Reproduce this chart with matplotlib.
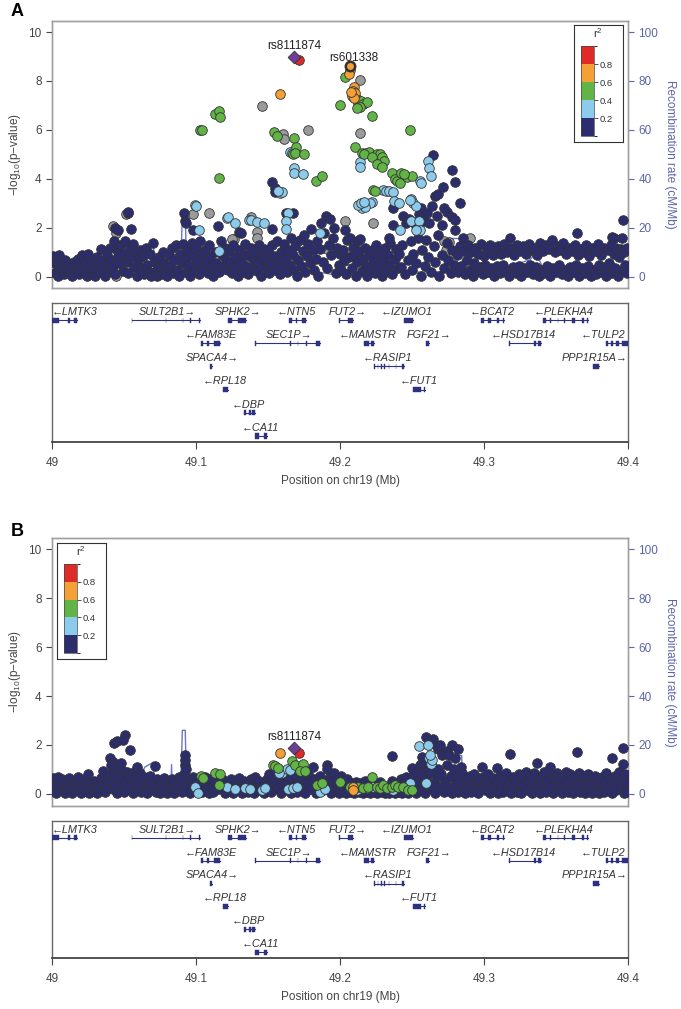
import matplotlib
matplotlib.use("Agg")
import matplotlib.pyplot as plt
from matplotlib.colors import ListedColormap, BoundaryNorm
from matplotlib.cm import ScalarMappable

plt.rcParams['font.family'] = ['Liberation Sans', 'DejaVu Sans']
plt.rcParams['mathtext.fontset'] = 'custom'
plt.rcParams['mathtext.rm'] = 'Liberation Sans'

# colours for the r2 bins
NAVY = '#2b2d6e'
LBLUE = '#8ccbeb'
GREEN = '#62b446'
ORANGE = '#f4a036'
RED = '#df2a2a'
GREY = '#9b9b9b'
PURPLE = '#6d3f95'
RECOMB = '#6b77c0'
RIGHT = '#5b66a8'
GENE = '#2e3080'

# ---------------- data: panel A ----------------
navy_a = [
    (49.001, 0.85), (49.002, 0.55), (49.002, 0.15), (49.003, 0.75), (49.004, 0.35), (49.004, 0.05),
    (49.005, 0.88), (49.006, 0.6), (49.006, 0.25), (49.007, 0.45), (49.008, 0.1), (49.009, 0.7),
    (49.010, 0.3), (49.011, 0.55), (49.012, 0.15), (49.013, 0.4), (49.014, 0.05), (49.015, 0.62),
    (49.016, 0.25), (49.018, 0.75), (49.018, 0.45), (49.019, 0.1), (49.020, 0.35),
    (49.021, 0.9), (49.022, 0.2), (49.023, 0.55), (49.024, 0.05), (49.025, 0.93), (49.026, 0.4),
    (49.027, 0.15), (49.028, 0.65), (49.029, 0.3), (49.030, 0.05), (49.031, 0.8), (49.032, 0.5),
    (49.033, 0.2), (49.034, 1.15), (49.035, 0.65), (49.036, 0.35), (49.037, 0.05), (49.038, 0.9),
    (49.039, 0.55), (49.040, 0.25), (49.040, 1.2),
    (49.0435, 1.98), (49.0455, 1.92), (49.0525, 2.6), (49.053, 2.67), (49.055, 1.95), (49.041, 0.7),
    (49.042, 0.4), (49.043, 1.45), (49.044, 0.1), (49.045, 1.1), (49.046, 0.85), (49.047, 0.55),
    (49.048, 1.3), (49.049, 0.25), (49.050, 0.95), (49.051, 1.45), (49.052, 0.6), (49.053, 0.15),
    (49.054, 1.15), (49.055, 0.8), (49.056, 1.35), (49.057, 0.4), (49.058, 1.05), (49.059, 0.05),
    (49.060, 0.7),
    (49.061, 1.1), (49.062, 0.35), (49.063, 0.85), (49.064, 0.1), (49.065, 1.2), (49.066, 0.5),
    (49.067, 0.2), (49.068, 0.95), (49.069, 0.05), (49.070, 1.38), (49.071, 0.6), (49.072, 0.25),
    (49.073, 0.05), (49.074, 0.8), (49.075, 0.4), (49.076, 0.1), (49.077, 1.0), (49.078, 0.55),
    (49.079, 0.2), (49.080, 0.05), (49.081, 0.9), (49.082, 0.45), (49.083, 1.2), (49.084, 0.15),
    (49.085, 0.7), (49.086, 1.3), (49.087, 0.3), (49.088, 0.05), (49.089, 0.95), (49.090, 0.55),
    (49.0915, 2.63), (49.092, 2.3), (49.093, 2.19), (49.098, 1.9), (49.091, 1.35), (49.092, 0.75),
    (49.093, 0.2), (49.094, 1.1), (49.095, 0.5), (49.096, 0.05), (49.097, 1.4), (49.098, 0.85),
    (49.099, 0.3), (49.100, 1.2), (49.101, 0.6), (49.102, 0.1), (49.103, 1.45), (49.104, 0.9),
    (49.105, 0.35), (49.106, 1.1), (49.107, 0.65), (49.108, 0.15), (49.109, 1.3), (49.110, 0.8),
    (49.111, 0.4), (49.112, 0.05), (49.113, 1.0), (49.114, 0.55), (49.1155, 2.08), (49.117, 1.48),
    (49.116, 0.2), (49.118, 0.9), (49.119, 0.45), (49.120, 1.2),
    (49.1295, 1.85), (49.131, 1.8), (49.1525, 1.95), (49.1525, 3.89), (49.155, 3.62), (49.1545, 3.45),
    (49.121, 0.7), (49.122, 0.3), (49.123, 1.05), (49.124, 0.55), (49.125, 0.15), (49.126, 1.3),
    (49.127, 0.8), (49.128, 0.4), (49.129, 0.05), (49.130, 1.1), (49.131, 0.6), (49.132, 0.2),
    (49.133, 0.95), (49.134, 1.35), (49.135, 0.45), (49.136, 0.1), (49.137, 0.85), (49.138, 1.2),
    (49.139, 0.35), (49.140, 0.7), (49.141, 1.0), (49.142, 0.25), (49.143, 0.6), (49.144, 1.3),
    (49.145, 0.05), (49.146, 0.8), (49.147, 1.15), (49.148, 0.4), (49.149, 0.7), (49.150, 1.05),
    (49.151, 0.15), (49.152, 0.5), (49.153, 1.3), (49.154, 0.85), (49.155, 0.3), (49.156, 1.45),
    (49.157, 0.65), (49.158, 0.1), (49.159, 1.0), (49.160, 0.4),
    (49.1625, 2.62), (49.167, 2.63), (49.161, 1.35), (49.162, 0.75), (49.163, 0.2), (49.164, 1.1),
    (49.165, 0.5), (49.166, 1.6), (49.167, 0.9), (49.168, 0.3), (49.169, 1.25), (49.170, 0.05),
    (49.171, 0.7), (49.172, 1.5), (49.173, 0.45), (49.174, 1.05), (49.175, 1.7), (49.176, 0.2),
    (49.177, 0.85), (49.178, 1.35), (49.179, 0.55), (49.180, 1.95), (49.181, 1.1), (49.182, 0.3),
    (49.183, 0.75), (49.184, 1.45), (49.185, 0.05), (49.186, 1.15), (49.187, 2.2), (49.188, 0.6),
    (49.189, 1.8), (49.190, 2.5), (49.191, 0.35), (49.192, 1.3), (49.193, 2.35), (49.194, 0.9),
    (49.195, 1.6), (49.196, 2.0), (49.197, 0.15), (49.198, 1.2), (49.199, 0.5), (49.200, 0.95),
    (49.2035, 1.92), (49.205, 1.5), (49.207, 1.6), (49.2115, 1.45), (49.214, 1.55), (49.209, 1.2),
    (49.201, 0.3), (49.202, 1.1), (49.203, 0.65), (49.204, 0.1), (49.206, 0.8), (49.208, 0.35),
    (49.210, 0.9), (49.211, 0.05), (49.212, 0.6), (49.213, 1.05), (49.215, 0.25), (49.216, 0.75),
    (49.217, 1.2), (49.218, 0.45), (49.219, 0.05), (49.220, 0.9), (49.221, 0.3), (49.222, 1.1),
    (49.223, 0.6), (49.224, 0.15), (49.225, 1.3), (49.226, 0.8), (49.227, 0.4), (49.228, 1.0),
    (49.229, 0.05), (49.230, 0.65), (49.231, 1.2), (49.232, 0.25), (49.233, 0.9), (49.234, 0.5),
    (49.235, 1.4), (49.236, 0.1), (49.237, 2.8), (49.2365, 2.12), (49.234, 1.58), (49.238, 0.75),
    (49.239, 1.15), (49.240, 0.35),
    (49.244, 2.5), (49.246, 2.2), (49.248, 2.35), (49.2525, 2.1), (49.255, 2.55), (49.2565, 2.8),
    (49.258, 2.3), (49.2605, 2.6), (49.262, 2.2), (49.264, 2.9), (49.2648, 4.97), (49.266, 3.3),
    (49.268, 3.4), (49.2675, 2.5), (49.2706, 2.12), (49.2718, 3.69), (49.2725, 2.8), (49.274, 2.65),
    (49.2775, 4.37), (49.2798, 3.89), (49.278, 2.45), (49.280, 2.33), (49.2795, 1.92), (49.2833, 3.0),
    (49.241, 0.95), (49.242, 0.4), (49.243, 1.3), (49.245, 0.1), (49.247, 0.7), (49.249, 1.45),
    (49.250, 0.3), (49.251, 0.95), (49.253, 0.55), (49.254, 1.6), (49.256, 0.05), (49.257, 1.1),
    (49.259, 0.45), (49.260, 1.5), (49.261, 0.8), (49.263, 0.2), (49.265, 1.25), (49.266, 0.6),
    (49.268, 1.7), (49.269, 0.05), (49.271, 0.9), (49.272, 0.35), (49.274, 1.4), (49.275, 0.7),
    (49.277, 0.15), (49.278, 1.1), (49.279, 0.5),
    (49.2855, 1.6), (49.3181, 1.58), (49.281, 0.9), (49.282, 0.2), (49.283, 1.25), (49.284, 0.45),
    (49.286, 1.05), (49.287, 0.1), (49.288, 0.7), (49.289, 1.3), (49.290, 0.3), (49.291, 1.0),
    (49.292, 0.05), (49.293, 0.55), (49.294, 1.2), (49.295, 0.25), (49.296, 0.95), (49.297, 0.4),
    (49.298, 1.35), (49.299, 0.1), (49.300, 0.85), (49.301, 0.5), (49.302, 1.15), (49.303, 0.2),
    (49.304, 1.3), (49.305, 0.35), (49.306, 0.9), (49.307, 0.05), (49.308, 1.1), (49.309, 0.45),
    (49.310, 1.25), (49.311, 0.15), (49.312, 0.95), (49.313, 0.5), (49.314, 1.35), (49.315, 0.25),
    (49.316, 1.0), (49.317, 0.05), (49.319, 1.2), (49.320, 0.4),
    (49.321, 0.9), (49.322, 0.15), (49.323, 1.3), (49.324, 0.45), (49.325, 1.05), (49.326, 0.05),
    (49.327, 1.25), (49.328, 0.35), (49.329, 0.95), (49.330, 0.2), (49.331, 1.35), (49.332, 0.5),
    (49.333, 1.1), (49.334, 0.1), (49.335, 1.2), (49.336, 0.4), (49.337, 0.9), (49.338, 0.05),
    (49.339, 1.4), (49.340, 0.3), (49.341, 1.05), (49.342, 0.15), (49.343, 1.3), (49.344, 0.45),
    (49.345, 1.15), (49.346, 0.05), (49.347, 1.51), (49.348, 0.35), (49.349, 1.0), (49.350, 0.2),
    (49.351, 1.25), (49.352, 0.5), (49.353, 1.1), (49.354, 0.1), (49.355, 1.4), (49.356, 0.3),
    (49.357, 0.95), (49.358, 0.05), (49.359, 1.2), (49.360, 0.4),
    (49.3646, 1.78), (49.3889, 1.65), (49.3900, 1.6), (49.3968, 2.33), (49.3955, 1.6), (49.361, 1.05),
    (49.362, 0.2), (49.363, 1.3), (49.364, 0.5), (49.365, 0.9), (49.366, 0.05), (49.367, 1.15),
    (49.368, 0.35), (49.369, 1.0), (49.370, 0.15), (49.371, 1.3), (49.372, 0.45), (49.373, 0.85),
    (49.374, 0.05), (49.375, 1.2), (49.376, 0.3), (49.377, 1.05), (49.378, 0.1), (49.379, 1.35),
    (49.380, 0.5), (49.381, 0.9), (49.382, 0.2), (49.383, 1.2), (49.384, 0.4), (49.385, 0.05),
    (49.386, 1.1), (49.387, 0.55), (49.388, 1.3), (49.389, 0.15), (49.390, 0.95), (49.391, 0.35),
    (49.392, 1.2), (49.393, 0.05), (49.394, 0.8), (49.395, 1.15), (49.396, 0.3), (49.397, 1.0),
    (49.398, 0.5), (49.399, 1.2), (49.3995, 0.15),
]
grey_a = [
    (49.1458, 6.96), (49.1775, 5.98), (49.1605, 5.85), (49.161, 5.65), (49.2139, 8.05), (49.2139, 5.87),
    (49.098, 2.55), (49.109, 2.63), (49.0515, 2.57), (49.0445, 1.78), (49.0426, 2.07), (49.1385, 2.45),
    (49.1425, 1.85), (49.1425, 1.57), (49.1265, 1.53), (49.1248, 1.54), (49.033, 0.44), (49.0445, 0.03),
    (49.1375, 0.27), (49.161, 1.16), (49.191, 1.16), (49.085, 0.75), (49.2035, 2.3), (49.2231, 2.19),
    (49.2755, 1.43), (49.2903, 1.6), (49.2916, 1.08), (49.2722, 1.45), (49.2733, 1.1), (49.021, 0.22),
    (49.100, 0.4), (49.065, 0.3), (49.236, 0.2), (49.295, 1.0), (49.210, 1.35),
]
lblue_a = [
    (49.099, 2.93), (49.100, 2.9), (49.102, 1.9), (49.1213, 2.4), (49.1225, 2.44), (49.127, 2.19),
    (49.1365, 2.32), (49.1385, 2.34), (49.142, 2.25), (49.147, 2.2), (49.164, 2.6), (49.1625, 2.3),
    (49.1625, 1.95), (49.116, 1.06), (49.1863, 1.8), (49.165, 5.1), (49.1665, 5.05), (49.168, 4.46),
    (49.1683, 4.23), (49.1745, 4.19), (49.158, 3.44), (49.1595, 3.48), (49.157, 3.5), (49.2139, 4.7),
    (49.214, 4.5), (49.2613, 4.74), (49.262, 4.43), (49.263, 4.12), (49.2555, 3.9), (49.2565, 3.85),
    (49.2295, 3.55), (49.232, 3.5), (49.234, 3.52), (49.2365, 3.45), (49.2375, 3.1), (49.241, 3.0),
    (49.2495, 3.2), (49.251, 3.0), (49.2525, 2.9), (49.2485, 3.15), (49.222, 3.05), (49.221, 3.0),
    (49.2155, 2.8), (49.2175, 2.85), (49.2415, 1.9), (49.2495, 2.3), (49.2545, 2.3), (49.2555, 1.9),
    (49.2525, 1.9), (49.2125, 2.95), (49.2145, 3.0), (49.2165, 3.05),
]
green_a = [
    (49.1132, 6.66), (49.1160, 6.78), (49.1166, 6.55), (49.1028, 6.0), (49.104, 6.0), (49.1539, 5.93),
    (49.1565, 5.76), (49.168, 5.69), (49.1697, 5.32), (49.1675, 5.0), (49.169, 5.05), (49.1752, 5.02),
    (49.116, 4.02), (49.1833, 3.92), (49.1873, 4.13), (49.200, 7.0), (49.2035, 8.16), (49.2115, 7.25),
    (49.2125, 7.1), (49.2145, 7.2), (49.216, 7.05), (49.2185, 7.15), (49.214, 6.95), (49.2115, 6.9),
    (49.222, 6.58), (49.2486, 6.0), (49.2104, 5.32), (49.2155, 5.05), (49.218, 5.08), (49.220, 5.1),
    (49.2165, 5.0), (49.2255, 5.0), (49.228, 5.0), (49.229, 4.9), (49.2305, 4.75), (49.222, 4.9),
    (49.2255, 4.6), (49.229, 4.5), (49.236, 4.26), (49.2382, 4.0), (49.2394, 3.9), (49.2417, 3.85),
    (49.2463, 4.1), (49.2498, 4.12), (49.2232, 3.57), (49.2243, 3.5), (49.2425, 4.25), (49.2445, 4.2),
]
orange_a = [
    (49.1583, 7.46), (49.2069, 8.46), (49.2062, 8.3), (49.2095, 7.75), (49.209, 7.6), (49.2105, 7.5),
    (49.2081, 7.4), (49.2097, 7.3), (49.2075, 7.55),
]
red_a = [(49.1715, 8.85)]
lead_a = (49.1683, 8.98)          # rs8111874
second_a = (49.2069, 8.60)        # rs601338

# ---------------- data: panel B ----------------
navy_b = [
    (49.001, 0.65), (49.002, 0.3), (49.003, 0.05), (49.004, 0.71), (49.005, 0.45), (49.006, 0.15),
    (49.007, 0.6), (49.008, 0.3), (49.009, 0.05), (49.010, 0.5), (49.011, 0.2), (49.012, 0.65),
    (49.013, 0.35), (49.014, 0.05), (49.015, 0.45), (49.016, 0.15), (49.017, 0.55), (49.0183, 0.71),
    (49.019, 0.25), (49.020, 0.05), (49.021, 0.45), (49.022, 0.2), (49.023, 0.6), (49.0252, 0.82),
    (49.024, 0.3), (49.026, 0.05), (49.027, 0.4), (49.028, 0.15), (49.029, 0.55), (49.030, 0.3),
    (49.031, 0.05), (49.032, 0.5), (49.033, 0.2), (49.034, 0.65), (49.0356, 0.95), (49.036, 0.35),
    (49.037, 0.1), (49.038, 0.55), (49.039, 0.25), (49.040, 0.8),
    (49.0403, 1.46), (49.0425, 1.32), (49.0412, 1.2), (49.0432, 2.1), (49.0452, 2.18), (49.0505, 2.41),
    (49.0495, 2.2), (49.0542, 1.8), (49.0445, 1.1), (49.047, 1.0), (49.0478, 1.25), (49.0495, 0.95),
    (49.052, 0.9), (49.0555, 0.85), (49.0588, 1.12), (49.041, 0.5), (49.042, 0.2), (49.043, 0.75),
    (49.044, 0.4), (49.045, 0.05), (49.046, 0.6), (49.048, 0.3), (49.049, 0.7), (49.050, 0.1),
    (49.051, 0.5), (49.053, 0.25), (49.054, 0.65), (49.056, 0.05), (49.057, 0.45), (49.058, 0.75),
    (49.059, 0.2), (49.060, 0.55), (49.061, 0.85), (49.062, 0.1), (49.063, 0.4), (49.064, 0.7),
    (49.065, 0.25), (49.066, 0.05), (49.067, 0.5), (49.068, 0.75), (49.069, 0.2), (49.070, 0.45),
    (49.0715, 1.14), (49.072, 0.1),
    (49.073, 0.6), (49.074, 0.3), (49.075, 0.05), (49.076, 0.5), (49.077, 0.2), (49.078, 0.65),
    (49.079, 0.35), (49.080, 0.05), (49.081, 0.45), (49.082, 0.15), (49.083, 0.6), (49.084, 0.3),
    (49.085, 0.05), (49.086, 0.5), (49.087, 0.2), (49.088, 0.7), (49.089, 0.35), (49.090, 0.1),
    (49.091, 0.55), (49.0915, 0.8), (49.092, 1.2), (49.0924, 1.39), (49.0924, 1.6), (49.093, 1.0),
    (49.094, 0.3), (49.095, 0.6), (49.096, 0.05), (49.097, 0.4), (49.098, 0.7), (49.099, 0.15),
    (49.100, 0.5),
    (49.101, 0.25), (49.102, 0.55), (49.104, 0.1), (49.105, 0.4), (49.106, 0.7), (49.107, 0.2),
    (49.108, 0.45), (49.109, 0.05), (49.110, 0.6), (49.111, 0.3), (49.112, 0.1), (49.114, 0.5),
    (49.115, 0.2), (49.118, 0.6), (49.119, 0.3), (49.120, 0.05), (49.122, 0.45), (49.123, 0.15),
    (49.124, 0.6), (49.125, 0.3), (49.126, 0.05), (49.128, 0.5), (49.129, 0.2), (49.130, 0.65),
    (49.131, 0.35), (49.132, 0.05), (49.133, 0.55), (49.135, 0.4), (49.136, 0.1), (49.138, 0.6),
    (49.139, 0.3), (49.140, 0.05), (49.141, 0.7), (49.142, 0.45), (49.143, 0.15), (49.144, 0.55),
    (49.146, 0.3), (49.147, 0.05), (49.149, 0.6), (49.150, 0.35),
    (49.151, 0.8), (49.152, 0.1), (49.154, 0.5), (49.155, 0.9), (49.156, 0.25), (49.158, 0.55),
    (49.159, 0.05), (49.160, 0.4), (49.161, 0.75), (49.162, 0.15), (49.164, 0.5), (49.165, 0.7),
    (49.166, 0.05), (49.168, 0.35), (49.169, 0.8), (49.170, 0.1), (49.171, 0.55), (49.173, 0.25),
    (49.174, 0.7), (49.176, 0.05), (49.177, 0.45), (49.178, 0.8), (49.179, 0.2), (49.181, 1.1),
    (49.182, 0.6), (49.183, 0.05), (49.185, 0.5), (49.186, 0.75), (49.188, 0.15), (49.189, 0.55),
    (49.1907, 1.2), (49.191, 1.0), (49.192, 0.3), (49.193, 0.7), (49.194, 0.05), (49.195, 0.45),
    (49.196, 0.85), (49.197, 0.2), (49.198, 0.6), (49.199, 0.05), (49.200, 0.3),
    (49.201, 0.75), (49.202, 0.15), (49.203, 0.5), (49.204, 0.05), (49.205, 0.6), (49.207, 0.1),
    (49.208, 0.45), (49.210, 0.05), (49.211, 0.5), (49.213, 0.1), (49.214, 0.45), (49.216, 0.05),
    (49.217, 0.55), (49.218, 0.1), (49.220, 0.45), (49.221, 0.05), (49.223, 0.55), (49.224, 0.1),
    (49.226, 0.05), (49.228, 0.5), (49.229, 0.1), (49.231, 0.05), (49.233, 0.15), (49.234, 0.05),
    (49.2363, 1.55), (49.236, 0.55), (49.238, 0.05), (49.239, 0.45), (49.241, 0.1), (49.242, 0.6),
    (49.243, 0.05), (49.245, 0.5), (49.246, 0.7), (49.247, 0.05), (49.2498, 1.08), (49.249, 0.35),
    (49.250, 0.75),
    (49.2567, 1.53), (49.2597, 2.32), (49.2637, 2.07), (49.2645, 2.25), (49.2665, 2.0), (49.268, 1.85),
    (49.2695, 2.0), (49.271, 1.6), (49.2745, 1.75), (49.2775, 2.0), (49.2822, 1.83), (49.276, 1.6),
    (49.2795, 1.45), (49.284, 1.1), (49.2555, 1.2), (49.257, 0.95), (49.2585, 1.3), (49.261, 1.05),
    (49.2525, 0.85), (49.251, 0.3), (49.253, 0.05), (49.254, 0.55), (49.255, 0.15), (49.256, 0.75),
    (49.258, 0.4), (49.259, 0.05), (49.260, 0.65), (49.262, 0.25), (49.263, 0.85), (49.265, 0.45),
    (49.266, 0.05), (49.267, 0.7), (49.268, 1.0), (49.269, 0.3), (49.270, 0.8), (49.272, 0.1),
    (49.273, 0.55), (49.274, 1.2), (49.275, 0.3), (49.277, 0.75), (49.278, 0.05), (49.279, 1.0),
    (49.280, 0.4), (49.281, 0.7), (49.282, 0.1), (49.283, 0.5), (49.285, 0.85), (49.286, 0.25),
    (49.287, 0.05), (49.288, 0.6), (49.289, 0.3), (49.290, 0.75), (49.291, 0.1), (49.292, 0.45),
    (49.293, 0.8), (49.294, 0.2), (49.295, 0.55), (49.296, 0.05), (49.297, 0.65), (49.2984, 1.12),
    (49.299, 0.3), (49.300, 0.7),
    (49.301, 0.15), (49.302, 0.5), (49.303, 0.8), (49.304, 0.05), (49.305, 0.4), (49.306, 0.65),
    (49.307, 0.2), (49.3088, 1.05), (49.309, 0.5), (49.310, 0.05), (49.311, 0.75), (49.312, 0.35),
    (49.313, 0.1), (49.314, 0.6), (49.315, 0.85), (49.316, 0.25), (49.317, 0.5), (49.3181, 1.63),
    (49.319, 0.05), (49.320, 0.7), (49.321, 0.3), (49.322, 0.55), (49.323, 0.1), (49.324, 0.8),
    (49.325, 0.4), (49.326, 0.05), (49.327, 0.65), (49.328, 0.3), (49.329, 0.9), (49.330, 0.15),
    (49.331, 0.55), (49.332, 0.75), (49.333, 0.05), (49.334, 0.4), (49.335, 0.85), (49.3366, 1.25),
    (49.337, 0.2), (49.338, 0.6), (49.339, 0.05), (49.340, 0.75), (49.341, 0.35), (49.342, 0.9),
    (49.343, 0.1), (49.344, 0.55), (49.3458, 1.12), (49.346, 0.3), (49.347, 0.8), (49.348, 0.05),
    (49.349, 0.6), (49.350, 0.3),
    (49.351, 0.85), (49.352, 0.15), (49.353, 0.6), (49.354, 0.05), (49.355, 0.75), (49.356, 0.35),
    (49.357, 0.9), (49.358, 0.1), (49.359, 0.55), (49.360, 0.8), (49.361, 0.25), (49.362, 0.05),
    (49.363, 0.65), (49.3644, 1.73), (49.365, 0.4), (49.366, 0.85), (49.367, 0.1), (49.368, 0.5),
    (49.369, 0.75), (49.370, 0.05), (49.371, 0.35), (49.372, 0.8), (49.373, 0.2), (49.374, 0.6),
    (49.375, 0.05), (49.376, 0.45), (49.377, 0.75), (49.378, 0.15), (49.379, 0.55), (49.380, 0.05),
    (49.381, 0.4), (49.382, 0.7), (49.383, 0.1), (49.384, 0.5), (49.385, 0.85), (49.386, 0.25),
    (49.387, 0.6), (49.3887, 1.46), (49.389, 0.05), (49.390, 0.4), (49.391, 0.75), (49.392, 0.15),
    (49.393, 0.55), (49.394, 0.9), (49.395, 0.3), (49.396, 0.6), (49.3968, 1.87), (49.3965, 1.21),
    (49.397, 0.05), (49.398, 0.8), (49.399, 0.45), (49.3995, 0.1),
]
lblue_b = [
    (49.1595, 0.84), (49.1630, 1.03), (49.1653, 0.97), (49.134, 0.25), (49.1375, 0.21), (49.1456, 0.18),
    (49.148, 0.25), (49.1641, 0.21), (49.1676, 0.25), (49.1861, 0.1), (49.1896, 0.2), (49.099, 0.27),
    (49.1016, 0.03), (49.1213, 0.27), (49.127, 0.19), (49.2185, 0.25), (49.2226, 0.3), (49.2265, 0.3),
    (49.2369, 0.16), (49.2485, 0.45), (49.2549, 1.96), (49.2613, 2.0), (49.2621, 1.46), (49.263, 1.21),
    (49.2595, 0.46), (49.2637, 1.39), (49.2625, 1.6), (49.2115, 0.15), (49.1575, 0.85), (49.170, 0.28),
]
green_b = [
    (49.1532, 1.18), (49.1549, 1.13), (49.1572, 1.08), (49.1664, 1.35), (49.1688, 1.2), (49.1745, 1.23),
    (49.1722, 0.93), (49.1757, 0.93), (49.1035, 0.74), (49.1046, 0.64), (49.1132, 0.84), (49.1167, 0.82),
    (49.116, 0.37), (49.1838, 0.37), (49.1873, 0.44), (49.200, 0.5), (49.207, 0.27), (49.2127, 0.3),
    (49.2162, 0.23), (49.2197, 0.27), (49.222, 0.71), (49.2255, 0.3), (49.2278, 0.23), (49.2301, 0.37),
    (49.2324, 0.23), (49.2359, 0.27), (49.2382, 0.37), (49.2405, 0.27), (49.244, 0.3), (49.2475, 0.16),
    (49.2498, 0.16),
]
orange_b = [(49.158, 1.69), (49.2093, 0.3), (49.2093, 0.15)]
red_b = [(49.1716, 1.69)]
lead_b = (49.1683, 1.86)          # rs8111874

# recombination rate (cM/Mb), same map for both panels
recomb_pos = [49.000, 49.020, 49.040, 49.060, 49.0645, 49.0705, 49.071, 49.0825, 49.083, 49.0835,
              49.0893, 49.0905, 49.0925, 49.0935, 49.1165, 49.117, 49.150, 49.185, 49.195, 49.220,
              49.240, 49.276, 49.2765, 49.2845, 49.285, 49.310, 49.332, 49.336, 49.343, 49.3575,
              49.358, 49.380, 49.400]
recomb_rate = [4, 5, 4, 6, 11, 13, 2, 2, 12, 2,
               2, 26, 26, 2, 5, 1, 1.5, 2, 1, 1,
               2, 2, 15.7, 15.7, 3, 3, 7, 10, 1, 0.5,
               2, 2.5, 3]

# genes: name, row, start, end, strand, label centre, exons
gene_names = ['LMTK3', 'SULT2B1', 'SPHK2', 'NTN5', 'FUT2', 'IZUMO1', 'BCAT2', 'PLEKHA4',
              'FAM83E', 'SEC1P', 'MAMSTR', 'FGF21', 'HSD17B14', 'TULP2',
              'SPACA4', 'RASIP1', 'PPP1R15A', 'RPL18', 'FUT1', 'DBP', 'CA11']
gene_rows = [0, 0, 0, 0, 0, 0, 0, 0, 1, 1, 1, 1, 1, 1, 2, 2, 2, 3, 3, 4, 5]
gene_start = [49.000, 49.0554, 49.1225, 49.1646, 49.1993, 49.2444, 49.2980, 49.3407,
              49.1035, 49.1412, 49.2164, 49.2595, 49.3173, 49.3844,
              49.1099, 49.2239, 49.3759, 49.1186, 49.2510, 49.1336, 49.1412]
gene_end = [49.0172, 49.1029, 49.1345, 49.1767, 49.2089, 49.2504, 49.3142, 49.3723,
            49.1165, 49.1863, 49.2233, 49.2619, 49.3398, 49.4000,
            49.1111, 49.2444, 49.3799, 49.1225, 49.2589, 49.1412, 49.1496]
gene_strand = ['-', '+', '+', '-', '+', '-', '-', '-',
               '-', '+', '-', '+', '-', '-',
               '+', '-', '+', '-', '-', '-', '-']
gene_label_x = [49.016, 49.0798, 49.1288, 49.170, 49.2053, 49.2465, 49.306, 49.3555,
                49.110, 49.1646, 49.219, 49.2615, 49.3275, 49.383,
                49.111, 49.2333, 49.3768, 49.120, 49.2546, 49.1367, 49.1445]
gene_exons = [
    [(49.000, 49.0051), (49.0111, 49.0126), (49.0150, 49.0172)],
    [(49.0554, 49.0558), (49.0789, 49.0793), (49.0909, 49.0913), (49.0960, 49.0964), (49.1023, 49.1029)],
    [(49.1225, 49.1249), (49.1294, 49.1345)],
    [(49.1646, 49.1668), (49.1692, 49.1701), (49.1737, 49.1767)],
    [(49.1993, 49.2002), (49.2053, 49.2089)],
    [(49.2444, 49.2504)],
    [(49.2980, 49.3001), (49.3031, 49.3046), (49.3091, 49.3106), (49.3130, 49.3142)],
    [(49.3407, 49.3431), (49.3460, 49.3464), (49.3511, 49.3515), (49.3556, 49.3560),
     (49.3612, 49.3633), (49.3678, 49.3693), (49.3714, 49.3723)],
    [(49.1035, 49.1047), (49.1075, 49.1090), (49.1126, 49.1165)],
    [(49.1412, 49.1416), (49.1654, 49.1658), (49.1705, 49.1709), (49.1765, 49.1769), (49.1836, 49.1863)],
    [(49.2164, 49.2203), (49.2218, 49.2233)],
    [(49.2595, 49.2619)],
    [(49.3173, 49.3182), (49.3347, 49.3362), (49.3377, 49.3398)],
    [(49.3844, 49.3859), (49.3883, 49.3895), (49.3919, 49.3934), (49.3958, 49.4000)],
    [(49.1099, 49.1111)],
    [(49.2239, 49.2243), (49.2262, 49.2266), (49.2286, 49.2290), (49.2307, 49.2311),
     (49.2337, 49.2341), (49.2388, 49.2392), (49.2429, 49.2444)],
    [(49.3759, 49.3799)],
    [(49.1186, 49.1225)],
    [(49.2510, 49.2559), (49.2580, 49.2589)],
    [(49.1336, 49.1348), (49.1367, 49.1379), (49.1391, 49.1412)],
    [(49.1412, 49.1436), (49.1475, 49.1496)],
]

r2_bounds = [0, 0.2, 0.4, 0.6, 0.8, 1.0]
r2_colors = [NAVY, LBLUE, GREEN, ORANGE, RED]

TXT = '#444444'
FRAME = '#a0a0a0'


def scatter_group(ax, pts, color, size=48, marker='o', lw=0.6, z=3):
    xs = [p[0] for p in pts]
    ys = [p[1] for p in pts]
    ax.scatter(xs, ys, s=size, c=color, marker=marker, edgecolors='#333333',
               linewidths=lw, zorder=z)


def draw_assoc(ax, groups, lead, ylim):
    ax2 = ax.twinx()
    ax2.plot(recomb_pos, recomb_rate, color=RECOMB, lw=1.0)
    ax2.set_ylim(ylim[0] * 10, ylim[1] * 10)
    ax2.set_yticks([0, 20, 40, 60, 80, 100])
    ax2.tick_params(axis='y', colors=RIGHT, labelsize=8.5, length=4, width=0.8)
    ax2.set_ylabel('Recombination rate (cM/Mb)', rotation=270, labelpad=13,
                   color=RIGHT, fontsize=8.5)
    # points above the recombination line
    ax.set_zorder(ax2.get_zorder() + 1)
    ax.patch.set_visible(False)

    for pts, col in groups:
        scatter_group(ax, pts, col)
    scatter_group(ax, [lead], PURPLE, size=42, marker='D', z=5)

    ax.set_xlim(49.0, 49.4)
    ax.set_ylim(*ylim)
    ax.set_xticks([])
    ax.set_yticks([0, 2, 4, 6, 8, 10])
    ax.tick_params(axis='y', colors=TXT, labelsize=8.5, length=4, width=0.8)
    ax.set_ylabel('\u2212log$_{10}$(p\u2212value)', fontsize=8.5, color=TXT, labelpad=4)
    for a in (ax, ax2):
        for sp in a.spines.values():
            sp.set_color(FRAME)
            sp.set_linewidth(1.0)
    return ax2


def draw_genes(ax):
    for i, name in enumerate(gene_names):
        row = -gene_rows[i]
        ax.plot([gene_start[i], gene_end[i]], [row, row], color=GENE, lw=0.8, zorder=2)
        spans = [(s, max(e - s, 0.0004)) for s, e in gene_exons[i]]
        ax.broken_barh(spans, (row - 0.11, 0.22), facecolors=GENE, edgecolors=GENE,
                       linewidth=0.3, zorder=3)
        label = '\u2190' + name if gene_strand[i] == '-' else name + '\u2192'
        ax.text(gene_label_x[i], row + 0.36, label, ha='center', va='center',
                fontsize=7.8, style='italic', color='#333333')
    ax.set_xlim(49.0, 49.4)
    ax.set_ylim(-5.26, 0.74)
    ax.set_yticks([])
    ax.set_xticks([49.0, 49.1, 49.2, 49.3, 49.4])
    ax.set_xticklabels(['49', '49.1', '49.2', '49.3', '49.4'])
    ax.tick_params(axis='x', colors=TXT, labelsize=8.5, length=5, width=0.8, pad=6)
    ax.set_xlabel('Position on chr19 (Mb)', fontsize=8.5, color=TXT, labelpad=4)
    for sp in ax.spines.values():
        sp.set_color('#666666')
        sp.set_linewidth(1.0)
    ax.spines['bottom'].set_linewidth(1.3)
    ax.spines['bottom'].set_color('#444444')


def draw_r2_legend(fig, rect):
    box = fig.add_axes(rect, zorder=20)
    box.set_xticks([])
    box.set_yticks([])
    for sp in box.spines.values():
        sp.set_color('#333333')
        sp.set_linewidth(0.8)
    box.text(0.49, 0.93, 'r$^2$', ha='center', va='center', fontsize=8, color='#333333',
             transform=box.transAxes)
    cax = box.inset_axes([0.14, 0.05, 0.27, 0.77])
    cmap = ListedColormap(r2_colors)
    norm = BoundaryNorm(r2_bounds, cmap.N)
    cb = fig.colorbar(ScalarMappable(norm=norm, cmap=cmap), cax=cax, ticks=[0.2, 0.4, 0.6, 0.8])
    cb.ax.tick_params(labelsize=6.8, length=3, width=0.6, colors='#333333', pad=1)
    cb.outline.set_edgecolor('#444444')
    cb.outline.set_linewidth(0.5)


fig = plt.figure(figsize=(6.81, 10.09), dpi=100)

# panel A
ax_a = fig.add_axes([0.0764, 0.7146, 0.8458, 0.2646])
groups_a = [(grey_a, GREY), (navy_a, NAVY), (lblue_a, LBLUE), (green_a, GREEN),
            (orange_a, ORANGE), (red_a, RED)]
draw_assoc(ax_a, groups_a, lead_a, (-0.45, 10.45))
scatter_group(ax_a, [second_a], ORANGE, size=46, lw=1.8, z=6)
ax_a.text(lead_a[0], 9.42, 'rs8111874', ha='center', va='center', fontsize=8.5, color='#222222')
ax_a.text(49.2095, 8.95, 'rs601338', ha='center', va='center', fontsize=8.5, color='#222222')
gen_a = fig.add_axes([0.0764, 0.5619, 0.8458, 0.1378])
draw_genes(gen_a)
draw_r2_legend(fig, [0.8429, 0.8593, 0.072, 0.116])

# panel B
ax_b = fig.add_axes([0.0764, 0.2012, 0.8458, 0.2656])
groups_b = [(navy_b, NAVY), (lblue_b, LBLUE), (green_b, GREEN), (orange_b, ORANGE), (red_b, RED)]
draw_assoc(ax_b, groups_b, lead_b, (-0.49, 10.45))
ax_b.text(lead_b[0], 2.34, 'rs8111874', ha='center', va='center', fontsize=8.5, color='#222222')
gen_b = fig.add_axes([0.0764, 0.0505, 0.8458, 0.1358])
draw_genes(gen_b)
draw_r2_legend(fig, [0.0837, 0.3469, 0.072, 0.115])

fig.text(0.016, 0.989, 'A', fontsize=13, fontweight='bold', va='center', ha='left')
fig.text(0.016, 0.473, 'B', fontsize=13, fontweight='bold', va='center', ha='left')

fig.savefig('out.png', dpi=100)
